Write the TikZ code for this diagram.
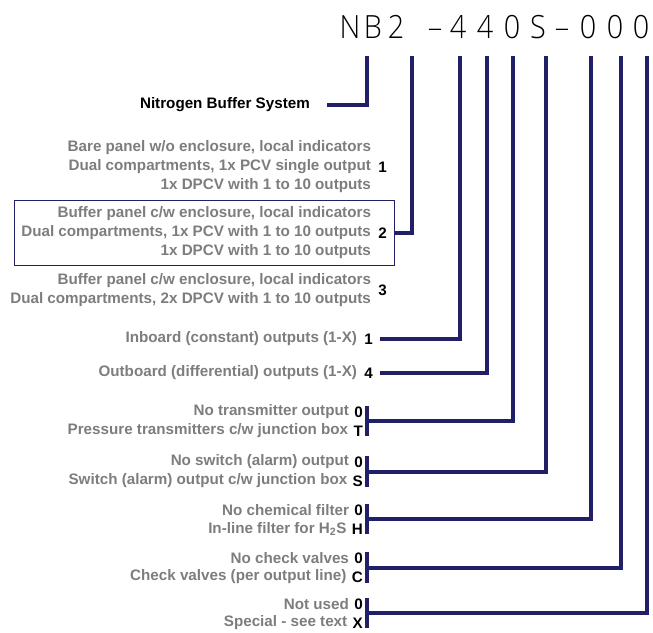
\documentclass[tikz,border=0pt]{standalone}
\usepackage{fontspec}
\setmainfont{Liberation Sans}
\newfontfamily\codefont{Open Sans Light}
\usetikzlibrary{positioning,fit}

\definecolor{navy}{RGB}{33,31,102}
\definecolor{optgrey}{RGB}{125,125,125}

\tikzset{
    codeline/.style={navy, line width=4pt},
    optdesc/.style={font=\bfseries\fontsize{15.2}{19}\selectfont, text=optgrey, align=right, inner sep=0pt},
    optkey/.style={font=\bfseries\fontsize{15.2}{19}\selectfont, inner sep=0pt, anchor=east},
    codechar/.style={font=\codefont\fontsize{32}{32}\selectfont, xscale=0.9, transform shape, inner sep=0pt, anchor=base}
}

\begin{document}
\begin{tikzpicture}[x=1pt, y=-1pt]
    \useasboundingbox (0,0) rectangle (653,632);

    % part number
    \foreach \ch/\x [count=\i] in {N/350,B/373,2/396,\textendash/435,4/458,4/485,0/512,S/538,\textendash/562,0/588,0/615,0/641}
    {\node[codechar] (c\i) at (\x,38) {\ch};}
    \foreach \n/\x in {a/367,b/412,c/460,d/487,e/513,f/546,g/591,h/621,i/647}
    {\coordinate (t\n) at (\x,56);}

    % system
    \node[font=\bfseries\fontsize{15.2}{18}\selectfont, anchor=east, inner sep=0pt] (nbs) at (310,105) {Nitrogen Buffer System};
    \draw[codeline] (ta) |- ([xshift=17pt]nbs.east);

    % panel type
    \node[optkey] (k1) at (387,167) {1};
    \node[optdesc, left=7pt of k1] (d1) {Bare panel w/o enclosure, local indicators\\Dual compartments, 1x PCV single output\\1x DPCV with 1 to 10 outputs};
    \node[optkey] (k2) at (387,233) {2};
    \node[optdesc, left=7pt of k2] (d2) {Buffer panel c/w enclosure, local indicators\\Dual compartments, 1x PCV with 1 to 10 outputs\\1x DPCV with 1 to 10 outputs};
    \node[draw=navy, line width=0.8pt, inner xsep=7pt, inner ysep=6pt, fit=(d2)(k2)] (box2) {};
    \node[optkey] (k3) at (387,290) {3};
    \node[optdesc, left=7pt of k3] (d3) {Buffer panel c/w enclosure, local indicators\\Dual compartments, 2x DPCV with 1 to 10 outputs};
    \draw[codeline] (tb) |- (box2.east);

    % outputs
    \node[optkey] (k4) at (373,339) {1};
    \node[optdesc, left=7pt of k4] (d4) {Inboard (constant) outputs (1-X)};
    \node[optkey] (k5) at (373,373) {4};
    \node[optdesc, left=7pt of k5] (d5) {Outboard (differential) outputs (1-X)};
    \draw[codeline] (tc) |- ([xshift=7pt]k4.east);
    \draw[codeline] (td) |- ([xshift=7pt]k5.east);

    % options
    \foreach \n/\y/\ka/\kb/\da/\db/\t in {
        tr/412/0/T/{No transmitter output}/{Pressure transmitters c/w junction box}/e,
        sw/462/0/S/{No switch (alarm) output}/{Switch (alarm) output c/w junction box}/f,
        fi/510/0/H/{No chemical filter}/{In-line filter for H\textsubscript{2}S}/g,
        cv/558/0/C/{No check valves}/{Check valves (per output line)}/h,
        sp/604/0/X/{Not used}/{Special - see text}/i}
    {
        \node[optkey] (\n a) at (363,\y) {\ka};
        \node[optkey] (\n b) at (363,\y+19) {\kb};
        \node[optdesc, left=5pt of \n a] {\da};
        \node[optdesc, left=5pt of \n b] {\db};
        \draw[codeline] ([xshift=4pt]\n a.north east) -- coordinate (\n m) ([xshift=4pt]\n b.south east);
        \draw[codeline] (t\t) |- (\n m);
    }
\end{tikzpicture}
\end{document}
